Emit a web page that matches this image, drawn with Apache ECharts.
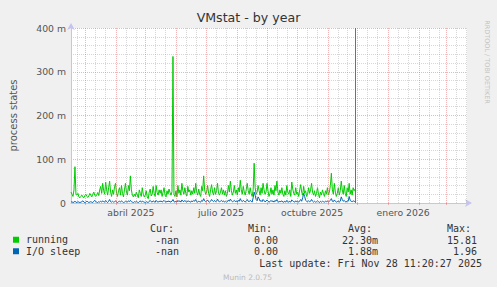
<!DOCTYPE html>
<html><head><meta charset="utf-8">
<script src="https://cdn.jsdelivr.net/npm/echarts@6/dist/echarts.min.js"></script>
<style>html,body{margin:0;padding:0;background:#f0f0f0;}#c{width:497px;height:287px;}</style>
</head><body><div id="c"></div>
<script>
// ---- data ----
const startDate = '2025-02-14T12:00:00Z';
const endDate = '2026-03-21T12:00:00Z';
const nowDate = '2025-11-28T11:20:27Z';
const monthStarts = ['2025-03-01','2025-04-01','2025-05-01','2025-06-01','2025-07-01','2025-08-01','2025-09-01','2025-10-01','2025-11-01','2025-12-01','2026-01-01','2026-02-01','2026-03-01'];
const minorGridDates = ['2025-02-21','2025-03-11','2025-03-21','2025-04-11','2025-04-21','2025-05-11','2025-05-21','2025-06-11','2025-06-21','2025-07-11','2025-07-21','2025-08-11','2025-08-21','2025-09-11','2025-09-21','2025-10-11','2025-10-21','2025-11-11','2025-11-21','2025-12-11','2025-12-21','2026-01-11','2026-01-21','2026-02-11','2026-02-21','2026-03-11','2026-03-21'];
const labelDates = ['2025-04-16','2025-07-16','2025-10-16','2026-01-16'];
const labelTexts = ['abril 2025','julio 2025','octubre 2025','enero 2026'];
const yTicks = [0,100,200,300,400];
const yTickLabels = ['0','100 m','200 m','300 m','400 m'];
// daily values in milli-units (m), one per day from startDate
const runningValues = [
 25,20,15,30,83,20,18,22,14,12,15,18,14,12,17,20,15,13,16,22,18,14,20,25,18,15,19,24,17,30,
 38,22,45,28,20,48,30,18,35,50,25,15,30,20,38,45,22,15,28,35,18,40,22,14,30,45,25,18,40,28,
 62,30,18,14,20,15,25,18,12,30,22,15,35,20,14,18,28,14,10,25,32,16,20,38,22,15,40,24,18,30,
 22,30,15,25,35,18,14,28,20,32,24,18,26,335,20,15,28,14,40,22,30,18,45,28,20,35,22,16,38,25,
 30,18,28,20,35,22,45,25,18,32,20,15,38,28,62,30,20,25,40,22,15,30,42,25,18,35,20,28,45,22,
 18,25,35,20,30,18,28,15,22,40,25,50,28,18,25,40,22,30,18,35,25,52,30,20,38,25,18,30,45,28,
 20,35,22,15,30,91,35,20,25,40,28,18,35,22,45,30,20,25,45,28,15,22,35,20,30,18,40,28,50,25,
 18,30,22,35,20,15,28,18,40,25,20,30,15,48,32,22,18,35,20,25,15,30,42,25,18,38,22,28,15,20,
 35,22,30,45,25,18,28,15,22,35,20,12,25,18,30,22,15,28,20,35,18,25,40,68,30,20,45,25,15,22,
 35,18,28,50,30,20,40,22,15,35,25,45,20,30,18,35,28,32,30
];
const ioSleepValues = [
 2,3,1,2,4,2,1,3,2,1,2,3,5,2,1,2,4,3,1,2,3,2,1,4,6,3,2,1,3,2,
 4,2,5,3,2,6,3,1,4,8,3,2,4,2,3,5,2,1,3,4,2,5,3,1,2,4,3,2,5,3,
 6,3,2,1,3,2,4,2,1,3,5,2,4,3,2,1,3,2,1,4,6,3,2,5,3,2,6,3,2,4,
 3,5,2,4,6,3,2,4,3,5,2,3,4,8,3,2,4,2,6,3,5,2,7,4,3,6,3,2,5,4,
 3,2,5,3,6,4,8,3,2,4,3,2,6,4,10,5,3,4,7,3,2,4,8,5,3,6,3,4,9,4,
 3,4,6,3,5,2,4,2,3,7,4,9,5,3,4,6,3,5,2,6,4,10,5,3,6,4,2,5,8,4,
 3,6,4,2,12,25,18,8,5,14,10,4,6,3,8,5,3,4,7,4,2,3,6,3,5,2,6,4,8,3,
 2,4,3,5,2,2,4,2,6,3,2,4,2,7,5,3,2,5,3,4,2,5,8,4,12,22,15,6,4,3,
 5,3,4,8,4,2,4,2,3,5,3,1,4,2,4,3,2,4,3,5,2,4,6,10,4,3,7,4,2,3,
 5,2,4,14,8,4,6,3,2,5,4,15,6,4,3,5,4,3,4
];
const seriesNames = ['running','I/O sleep'];
const statHeaders = ['Cur:','Min:','Avg:','Max:'];
const runningStats = ['-nan','0.00','22.30m','15.81'];
const ioSleepStats = ['-nan','0.00','1.88m','1.96'];
const lastUpdate = 'Last update: Fri Nov 28 11:20:27 2025';
const footer = 'Munin 2.0.75';
const sideText = 'RRDTOOL / TOBI OETIKER';
const titleText = 'VMstat - by year';
const yName = 'process states';

// ---- build ----
const DAY = 86400000;
const t0 = Date.parse(startDate);
const ts = d => Date.parse(d.length === 10 ? d + 'T00:00:00Z' : d);
const dayOf = d => (ts(d) - t0) / DAY;   // x axis unit: days since startDate
const runningData = runningValues.map((v, i) => [i, v]);
const ioData = ioSleepValues.map((v, i) => [i, v]);
const labelDays = labelDates.map(dayOf);

const minorColor = 'rgba(150,150,150,0.38)';
const majorColor = 'rgba(225,90,90,0.45)';
const gridLines = [];
minorGridDates.forEach(d => gridLines.push({xAxis: dayOf(d), lineStyle: {color: minorColor, type: [1, 1], width: 1}}));
monthStarts.forEach(d => gridLines.push({xAxis: dayOf(d), lineStyle: {color: majorColor, type: [1, 1], width: 1}}));
gridLines.push({xAxis: dayOf(nowDate), lineStyle: {color: '#707070', type: 'solid', width: 1}});

const mono = 'DejaVu Sans Mono';
const sans = 'DejaVu Sans';
const colLeft = [150, 248, 348, 447];
const colRight = [179, 278, 378, 477];
const graphics = [];
statHeaders.forEach((h, i) => graphics.push({type: 'text', x: colLeft[i], y: 228.3, style: {text: h, font: '10px ' + mono, fill: '#333', align: 'left', verticalAlign: 'middle'}}));
[runningStats, ioSleepStats].forEach((row, r) => {
  row.forEach((v, i) => graphics.push({type: 'text', x: colRight[i], y: 240 + r * 11.5, style: {text: v, font: '10px ' + mono, fill: '#333', align: 'right', verticalAlign: 'middle'}}));
});
graphics.push({type: 'text', x: 482, y: 263.7, style: {text: lastUpdate, font: '10px ' + mono, fill: '#333', align: 'right', verticalAlign: 'middle'}});
graphics.push({type: 'text', x: 247.5, y: 277, style: {text: footer, font: '7.5px ' + sans, fill: '#bbb', align: 'center', verticalAlign: 'middle'}});
graphics.push({type: 'text', x: 487, y: 62, rotation: -Math.PI / 2, style: {text: sideText, font: '6.5px ' + sans, fill: '#c4c4c4', align: 'center', verticalAlign: 'middle'}});

const chart = echarts.init(document.getElementById('c'), null, {renderer: 'svg'});
chart.setOption({
  animation: false,
  backgroundColor: '#f0f0f0',
  title: {text: titleText, left: 'center', top: 11, padding: 0,
    textStyle: {fontFamily: sans, fontSize: 12.6, fontWeight: 'normal', color: '#333'}},
  grid: {left: 66, right: 30, top: 28, bottom: 84, show: true, backgroundColor: '#fff', borderWidth: 0},
  legend: {data: seriesNames, orient: 'vertical', left: 13, top: 234, icon: 'rect', itemWidth: 6, itemHeight: 6, itemGap: 0,
    padding: 0, textStyle: {fontFamily: mono, fontSize: 10, color: '#333', lineHeight: 11.5, padding: [0, 0, 0, 2]}},
  xAxis: {
    type: 'value', min: 0, max: dayOf(endDate),
    axisLine: {show: true, onZero: false, lineStyle: {color: '#c4c4f2', width: 1}, symbol: ['none', 'arrow'], symbolSize: [6, 7], symbolOffset: [0, 5]},
    axisTick: {show: true, customValues: monthStarts.map(dayOf), length: 2, lineStyle: {color: majorColor}},
    splitLine: {show: false},
    axisLabel: {customValues: labelDays, formatter: v => { const i = labelDays.findIndex(d => Math.abs(d - v) < 0.01); return i >= 0 ? labelTexts[i] : ''; },
      color: '#555', fontFamily: sans, fontSize: 9.3, margin: 5, hideOverlap: false}
  },
  yAxis: {
    type: 'value', min: 0, max: 400, interval: 100,
    name: yName, nameLocation: 'middle', nameGap: 53, nameTextStyle: {fontFamily: sans, fontSize: 10, color: '#555'},
    axisLine: {show: true, lineStyle: {color: '#c4c4f2', width: 1}, symbol: ['none', 'arrow'], symbolSize: [6, 7], symbolOffset: [0, 5]},
    axisTick: {show: false},
    axisLabel: {formatter: v => yTickLabels[yTicks.indexOf(v)], color: '#555', fontFamily: sans, fontSize: 9.3, margin: 5},
    splitLine: {show: true, lineStyle: {color: majorColor, type: [1, 1]}},
    minorTick: {show: false, splitNumber: 5},
    minorSplitLine: {show: true, lineStyle: {color: minorColor, type: [1, 1]}}
  },
  graphic: graphics,
  series: [
    {name: '_grid', type: 'line', data: [], silent: true, z: 1,
      markLine: {silent: true, symbol: 'none', label: {show: false}, animation: false, data: gridLines}},
    {name: seriesNames[0], type: 'line', data: runningData, showSymbol: false, symbol: 'none', z: 3,
      itemStyle: {color: '#00cc00'}, lineStyle: {color: '#00cc00', width: 1}},
    {name: seriesNames[1], type: 'line', data: ioData, showSymbol: false, symbol: 'none', z: 4,
      itemStyle: {color: '#0066b3'}, lineStyle: {color: '#0066b3', width: 1}}
  ]
});
</script></body></html>
